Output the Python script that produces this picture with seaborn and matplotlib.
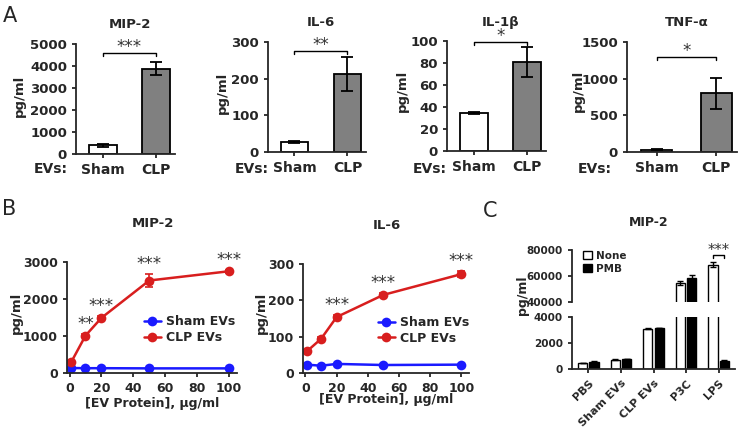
import numpy as np
import pandas as pd
import seaborn as sns
import matplotlib.pyplot as plt

# ---- panel A: cytokines after EV injection
a_groups = ["Sham", "CLP"]
a_titles = ["MIP-2", "IL-6", "IL-1β", "TNF-α"]
a_means = [[395, 3880], [27, 213], [34.5, 81], [33, 800]]
a_errs = [[55, 300], [2, 46], [1, 14], [10, 215]]
a_yticks = [[0, 1000, 2000, 3000, 4000, 5000], [0, 100, 200, 300],
            [0, 20, 40, 60, 80, 100], [0, 500, 1000, 1500]]
a_stars = ["***", "**", "*", "*"]
a_bracket = [4600, 275, 99, 1300]

# ---- panel B: dose response
b_dose = [1, 10, 20, 50, 100]
b_series = ["Sham EVs", "CLP EVs"]
b_mip2_sham = [135, 130, 130, 125, 125]
b_mip2_clp = [290, 1010, 1490, 2500, 2750]
b_mip2_clp_err = [30, 40, 40, 180, 40]
b_mip2_stars = ["", "**", "***", "***", "***"]
b_il6_sham = [23, 20, 25, 22, 23]
b_il6_clp = [60, 94, 154, 215, 272]
b_il6_clp_err = [3, 4, 5, 4, 8]
b_il6_stars = ["", "", "***", "***", "***"]

# ---- panel C: polymyxin B
c_treat = ["PBS", "Sham EVs", "CLP EVs", "P3C", "LPS"]
c_levels = ["None", "PMB"]
c_none = [460, 720, 3100, 54600, 68700]
c_pmb = [560, 770, 3150, 58500, 640]
c_none_err = [20, 30, 30, 1500, 1800]
c_pmb_err = [20, 30, 30, 2000, 60]

sns.set_style("ticks")
plt.rcParams["font.family"] = ["DejaVu Sans"]
plt.rcParams["font.weight"] = "bold"
plt.rcParams["axes.linewidth"] = 1.3

W, H = 742, 433
fig = plt.figure(figsize=(W / 100, H / 100), dpi=100)


def add_ax(left, top, right, bottom):
    return fig.add_axes([left / W, 1 - bottom / H, (right - left) / W, (bottom - top) / H])


def fig_text(x, y, s, **kw):
    kw.setdefault("ha", "center")
    kw.setdefault("va", "center")
    kw.setdefault("fontweight", "bold")
    fig.text(x / W, 1 - y / H, s, **kw)


STAR = "#333333"

# ---------------- A
a_boxes = [(76, 44, 175, 154), (268, 42, 366, 152), (447, 41, 546, 151), (627, 42, 737, 152)]
a_ylab_x = [19, 222, 402, 578]
a_ylab_y = [96, 93, 91, 91]
a_evs_x = [51, 252, 430, 595]

for i in range(4):
    ax = add_ax(*a_boxes[i])
    sns.barplot(x=a_groups, y=a_means[i], hue=a_groups, palette=["white", "#808080"],
                edgecolor="black", linewidth=1.3, width=0.52, legend=False, ax=ax)
    ax.errorbar(range(len(a_groups)), a_means[i], yerr=a_errs[i], fmt="none",
                ecolor="black", elinewidth=1.3, capsize=4, capthick=1.3)
    ymax = a_yticks[i][-1]
    ax.set_ylim(0, ymax)
    ax.set_yticks(a_yticks[i])
    ax.set_xlim(-0.5, 1.35)
    ax.tick_params(labelsize=9.5, width=1.3, length=3)
    ax.tick_params(axis="x", labelsize=10)
    sns.despine(ax=ax)
    y = a_bracket[i]
    d = ymax * 0.03
    ax.plot([0, 0, 1, 1], [y - d, y, y, y - d], color="black", lw=1, clip_on=False)
    ax.annotate(a_stars[i], xy=(0.5, y), xytext=(0, -3), textcoords="offset pixels",
                ha="center", va="bottom", fontsize=12, fontweight="normal", color=STAR)
    ax.annotate(a_titles[i], xy=(0.5, 1), xycoords=("data", "axes fraction"),
                xytext=(0, 19), textcoords="offset pixels", ha="center", va="center",
                fontsize=9.5, fontweight="bold")
    fig_text(a_ylab_x[i], a_ylab_y[i], "pg/ml", rotation=90, fontsize=9.5)
    fig_text(a_evs_x[i], 169, "EVs:", fontsize=10)

# ---------------- B
b_boxes = [(67, 262, 237, 373), (303, 264, 469, 373)]
b_sets = [("MIP-2", b_mip2_sham, b_mip2_clp, b_mip2_clp_err, b_mip2_stars, [0, 1000, 2000, 3000]),
          ("IL-6", b_il6_sham, b_il6_clp, b_il6_clp_err, b_il6_stars, [0, 100, 200, 300])]
b_ylab = [(16, 313), (261, 313)]
b_xlab = [(152, 403), (386, 400)]
colors = {"Sham EVs": "#1a1aff", "CLP EVs": "#d81e1e"}

for j, (title, sham, clp, clp_err, stars, yt) in enumerate(b_sets):
    ax = add_ax(*b_boxes[j])
    df = pd.DataFrame({"dose": b_dose * 2,
                       "value": sham + clp,
                       "group": [b_series[0]] * len(b_dose) + [b_series[1]] * len(b_dose)})
    sns.lineplot(data=df, x="dose", y="value", hue="group", hue_order=b_series,
                 palette=colors, marker="o", markersize=7, markeredgewidth=0,
                 linewidth=1.8, ax=ax)
    ax.errorbar(b_dose, clp, yerr=clp_err, fmt="none", ecolor=colors["CLP EVs"],
                elinewidth=1.2, capsize=3, capthick=1.2)
    for x, v, e, s in zip(b_dose, clp, clp_err, stars):
        if s:
            ax.annotate(s, xy=(x, v + e), xytext=(0, 1), textcoords="offset pixels",
                        ha="center", va="bottom", fontsize=12, fontweight="normal",
                        color=STAR, annotation_clip=False)
    ax.set_xlim(-1.6, 105)
    ax.set_ylim(0, yt[-1])
    ax.set_yticks(yt)
    ax.set_xticks([0, 20, 40, 60, 80, 100])
    ax.set_xlabel("")
    ax.set_ylabel("")
    ax.tick_params(labelsize=9, width=1.3, length=3)
    sns.despine(ax=ax)
    h, l = ax.get_legend_handles_labels()
    ax.legend(h, l, loc="center left", bbox_to_anchor=(0.45, 0.39), frameon=False,
              fontsize=9, handlelength=1.4, handletextpad=0.4, labelspacing=0.2,
              borderpad=0, borderaxespad=0)
    ax.annotate(title, xy=(52, 1), xycoords=("data", "axes fraction"),
                xytext=(0, 38), textcoords="offset pixels", ha="center", va="center",
                fontsize=9.5, fontweight="bold")
    fig_text(*b_ylab[j], "pg/ml", rotation=90, fontsize=9.5)
    fig_text(*b_xlab[j], "[EV Protein], μg/ml", fontsize=9)

# ---------------- C
df_c = pd.DataFrame({"treatment": c_treat * 2,
                     "PMB": [c_levels[0]] * len(c_treat) + [c_levels[1]] * len(c_treat),
                     "value": c_none + c_pmb,
                     "err": c_none_err + c_pmb_err})
c_top = add_ax(572, 250, 735, 302)
c_bot = add_ax(572, 317, 735, 369)
for ax in (c_top, c_bot):
    sns.barplot(data=df_c, x="treatment", y="value", hue="PMB", hue_order=c_levels,
                palette={"None": "white", "PMB": "black"}, edgecolor="black",
                linewidth=1.0, width=0.7, gap=0.2, errorbar=None, ax=ax,
                legend=(ax is c_top))
    for cont, level in zip(ax.containers, c_levels):
        sub = df_c[df_c["PMB"] == level]
        xs = [p.get_x() + p.get_width() / 2 for p in cont]
        ax.errorbar(xs, sub["value"], yerr=sub["err"], fmt="none", ecolor="black",
                    elinewidth=1.0, capsize=2.5, capthick=1.0)
    ax.set_xlim(-0.5, 4.5)
    ax.set_xlabel("")
    ax.set_ylabel("")
    ax.tick_params(labelsize=7.5, width=1.3, length=3)

c_top.set_ylim(40000, 80000)
c_top.set_yticks([40000, 60000, 80000])
c_top.tick_params(bottom=False, labelbottom=False)
sns.despine(ax=c_top, bottom=True)
c_bot.set_ylim(0, 4000)
c_bot.set_yticks([0, 2000, 4000])
sns.despine(ax=c_bot)
c_bot.set_xticks(range(len(c_treat)))
c_bot.set_xticklabels(c_treat, rotation=45, ha="right", rotation_mode="anchor", fontsize=8)

h, l = c_top.get_legend_handles_labels()
c_top.legend(h, l, loc="center left", bbox_to_anchor=(0.07, 0.76), frameon=False,
             fontsize=7.5, handlelength=0.8, handleheight=0.8, handletextpad=0.4,
             labelspacing=0.3, borderpad=0, borderaxespad=0)

p_none = c_top.containers[0][4]
p_pmb = c_top.containers[1][4]
x0 = p_none.get_x() + p_none.get_width() / 2
x1 = p_pmb.get_x() + p_pmb.get_width() / 2
c_top.plot([x0, x0, x1, x1], [74000, 76000, 76000, 74000], color="black", lw=1, clip_on=False)
c_top.annotate("***", xy=((x0 + x1) / 2, 76000), xytext=(0, -3), textcoords="offset pixels",
               ha="center", va="bottom", fontsize=10.5, fontweight="normal", color=STAR,
               annotation_clip=False)
c_top.annotate("MIP-2", xy=(0.47, 1), xycoords="axes fraction", xytext=(0, 28),
               textcoords="offset pixels", ha="center", va="center", fontsize=9,
               fontweight="bold")
fig_text(523, 295, "pg/ml", rotation=90, fontsize=9)

# panel letters
fig_text(3, 22, "A", ha="left", va="baseline", fontsize=15, fontweight="normal")
fig_text(2, 215, "B", ha="left", va="baseline", fontsize=15, fontweight="normal")
fig_text(483, 217, "C", ha="left", va="baseline", fontsize=15, fontweight="normal")

fig.savefig("out.png", dpi=100)
